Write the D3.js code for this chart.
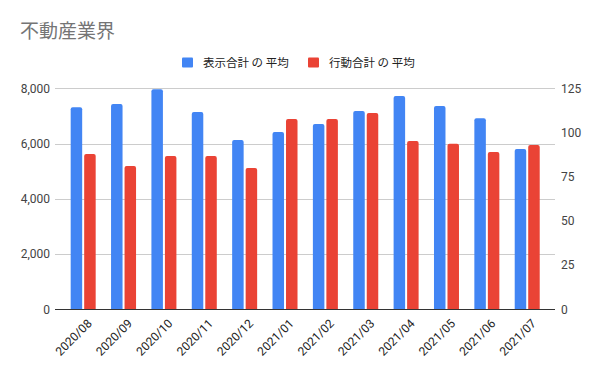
<!DOCTYPE html>
<html><head><meta charset="utf-8">
<script src="https://cdn.jsdelivr.net/npm/d3@7"></script>
<style>body{margin:0;background:#fff}svg{display:block}</style>
</head><body>
<script>
const categories = ["2020/08","2020/09","2020/10","2020/11","2020/12","2021/01","2021/02","2021/03","2021/04","2021/05","2021/06","2021/07"];
const displayAvg = [7310,7430,7970,7140,6130,6420,6710,7180,7720,7360,6920,5800];
const actionAvg = [87.8,81.1,86.7,86.7,79.9,107.6,107.6,111.0,95.2,93.7,89.0,92.9];
const leftTicks = [0,2000,4000,6000,8000];
const rightTicks = [0,25,50,75,100,125];
const seriesNames = ["表示合計 の 平均","行動合計 の 平均"];
const colors = ["#4285f4","#ea4335"];

(function(){
const W=600,H=371;
const svg=d3.select("body").append("svg").attr("width",W).attr("height",H);
const font="Roboto, 'Noto Sans CJK JP', Arial, sans-serif";
const pTop=88.3,pBottom=309.3,pLeft=55,pRight=555;
const x=d3.scaleBand().domain(categories).range([63,547.4]).paddingInner(0).paddingOuter(0);
const yL=d3.scaleLinear().domain([0,8000]).range([pBottom,pTop]);
const yR=d3.scaleLinear().domain([0,125]).range([pBottom,pTop]);

svg.append("text").attr("x",20).attr("y",38).text("不動産業界")
  .attr("font-family","'Noto Sans CJK JP', sans-serif").attr("font-size",19).attr("fill","#757575");

const lg=svg.append("g").attr("font-family","'Noto Sans CJK JP', sans-serif").attr("font-size",11.5).attr("fill","#222");
const lx=[182,308];
seriesNames.forEach((n,i)=>{
  lg.append("rect").attr("x",lx[i]).attr("y",57.5).attr("width",11).attr("height",10).attr("rx",1).attr("fill",colors[i]);
  lg.append("text").attr("x",lx[i]+21).attr("y",67).text(n);
});

svg.append("g").selectAll("line").data(leftTicks.filter(d=>d>0)).join("line")
  .attr("x1",pLeft).attr("x2",pRight).attr("y1",d=>Math.round(yL(d))+0.5).attr("y2",d=>Math.round(yL(d))+0.5)
  .attr("stroke","#cccccc").attr("stroke-width",1);

const la=svg.append("g").attr("transform",`translate(${pLeft},0)`)
  .call(d3.axisLeft(yL).tickValues(leftTicks).tickFormat(d3.format(",")).tickSize(0).tickPadding(5));
la.select(".domain").remove();
la.selectAll("text").attr("font-family",font).attr("font-size",12).attr("fill","#444");

const ra=svg.append("g").attr("transform",`translate(${pRight},0)`)
  .call(d3.axisRight(yR).tickValues(rightTicks).tickSize(0).tickPadding(6));
ra.select(".domain").remove();
ra.selectAll("text").attr("font-family",font).attr("font-size",12).attr("fill","#444");

const bw=11.5,gap=2;
function barPath(x0,y0,w,h,r){
  r=Math.min(r,h,w/2);
  return `M${x0},${y0+h}V${y0+r}Q${x0},${y0} ${x0+r},${y0}H${x0+w-r}Q${x0+w},${y0} ${x0+w},${y0+r}V${y0+h}Z`;
}
const g=svg.append("g");
g.selectAll(".b1").data(categories).join("path").attr("class","b1").attr("fill",colors[0])
  .attr("d",(c,i)=>{const cx=x(c)+x.bandwidth()/2;const yt=yL(displayAvg[i]);return barPath(cx-gap/2-bw,yt,bw,pBottom-yt,2);});
g.selectAll(".b2").data(categories).join("path").attr("class","b2").attr("fill",colors[1])
  .attr("d",(c,i)=>{const cx=x(c)+x.bandwidth()/2;const yt=yR(actionAvg[i]);return barPath(cx+gap/2,yt,bw,pBottom-yt,2);});

svg.append("line").attr("x1",pLeft).attr("x2",pRight).attr("y1",309.5).attr("y2",309.5)
  .attr("stroke","#333").attr("stroke-width",1);

svg.append("g").selectAll("text").data(categories).join("text")
  .attr("transform",c=>`translate(${x(c)+x.bandwidth()/2+6.5},${pBottom+12}) rotate(-45)`)
  .attr("text-anchor","end").attr("dy","0.35em")
  .attr("font-family",font).attr("font-size",12).attr("fill","#222").text(c=>c);
})();
</script>
</body></html>
